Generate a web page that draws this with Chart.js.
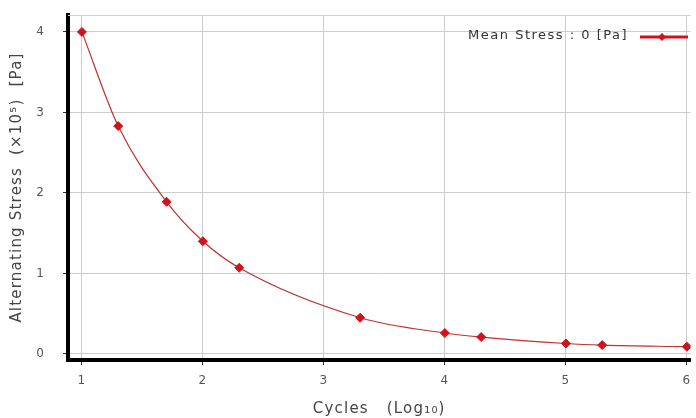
<!DOCTYPE html>
<html>
<head>
<meta charset="utf-8">
<script src="https://cdn.jsdelivr.net/npm/chart.js@4/dist/chart.umd.min.js"></script>
<style>
  html, body { margin: 0; padding: 0; background: #fff; }
  #wrap { width: 696px; height: 418px; position: relative; }
</style>
</head>
<body>
<div id="wrap"><canvas id="snChart"></canvas></div>
<script>
// S-N curve data: cycles in log10, alternating stress in units of 1e5 Pa
const cyclesLog = [1, 1.3, 1.7, 2, 2.3, 3.3, 4, 4.3, 5, 5.3, 6];
const stressValues = [4.0, 2.83, 1.89, 1.40, 1.07, 0.45, 0.26, 0.21, 0.13, 0.11, 0.09];
const xTicks = [1, 2, 3, 4, 5, 6];
const yTicks = [0, 1, 2, 3, 4];
const seriesLabel = "Mean Stress : 0 [Pa]";

const lineColor = "#c0302f";
const markerColor = "#d0121b";
const textFont = "DejaVu Sans";

// wider text spacing for every label drawn on the canvas
const spacing = {
  id: "spacing",
  beforeDraw(chart) { chart.ctx.letterSpacing = "1.2px"; }
};

// top border of the plot plus an in-plot legend at the upper right
const plotExtras = {
  id: "plotExtras",
  afterDraw(chart) {
    const { ctx, chartArea } = chart;
    ctx.save();
    ctx.strokeStyle = "#cfcfcf";
    ctx.lineWidth = 1;
    ctx.beginPath();
    ctx.moveTo(chartArea.left, chartArea.top + 0.5);
    ctx.lineTo(chartArea.right, chartArea.top + 0.5);
    ctx.stroke();

    // legend
    const ly = 37;
    ctx.font = "13px " + textFont;
    ctx.letterSpacing = "1.5px";
    ctx.fillStyle = "#333";
    ctx.textAlign = "right";
    ctx.textBaseline = "middle";
    ctx.fillText(seriesLabel, 628, ly - 1);
    ctx.strokeStyle = markerColor;
    ctx.lineWidth = 3;
    ctx.beginPath();
    ctx.moveTo(640, ly);
    ctx.lineTo(688, ly);
    ctx.stroke();
    ctx.fillStyle = markerColor;
    ctx.beginPath();
    ctx.moveTo(662, ly - 4);
    ctx.lineTo(666, ly);
    ctx.lineTo(662, ly + 4);
    ctx.lineTo(658, ly);
    ctx.closePath();
    ctx.fill();
    ctx.restore();
  }
};

new Chart(document.getElementById("snChart"), {
  type: "line",
  data: {
    datasets: [{
      label: seriesLabel,
      data: cyclesLog.map((x, i) => ({ x: x, y: stressValues[i] })),
      borderColor: lineColor,
      borderWidth: 1.2,
      cubicInterpolationMode: "monotone",
      pointStyle: "rectRot",
      pointRadius: 4.5,
      pointBackgroundColor: markerColor,
      pointBorderColor: markerColor,
      pointBorderWidth: 1
    }]
  },
  options: {
    responsive: true,
    maintainAspectRatio: false,
    animation: false,
    layout: { padding: { top: 15, right: 4, left: 8, bottom: 0 } },
    plugins: {
      legend: { display: false },
      tooltip: { enabled: false }
    },
    scales: {
      x: {
        type: "linear",
        min: 0.885,
        max: 6.03,
        afterBuildTicks: (s) => { s.ticks = xTicks.map(v => ({ value: v })); },
        afterFit: (s) => {
          s.height = 58;
          s.paddingLeft = 0;
          s.paddingRight = 0;
        },
        grid: { color: "#cccccc", tickColor: "#333", tickLength: 5 },
        border: { color: "#000", width: 4 },
        ticks: {
          color: "#555",
          padding: 9,
          font: { family: textFont, size: 12 }
        },
        title: {
          display: true,
          text: "Cycles   (Log\u2081\u2080)",
          color: "#444",
          padding: { top: 0, bottom: 0 },
          font: { family: textFont, size: 15 }
        }
      },
      y: {
        type: "linear",
        min: -0.075,
        max: 4.21,
        afterBuildTicks: (s) => { s.ticks = yTicks.map(v => ({ value: v })); },
        afterFit: (s) => {
          s.width = 60;
          // labels sit inside the range, so no extra room above/below is needed
          s.paddingTop = 0;
          s.paddingBottom = 0;
        },
        grid: { color: "#cccccc", tickColor: "#333", tickLength: 5 },
        border: { color: "#000", width: 4 },
        ticks: {
          color: "#555",
          padding: 18,
          font: { family: textFont, size: 12 }
        },
        title: {
          display: true,
          text: "Alternating Stress  (\u00d710\u2075)  [Pa]",
          color: "#444",
          padding: { top: 0, bottom: 0 },
          font: { family: textFont, size: 15 }
        }
      }
    }
  },
  plugins: [spacing, plotExtras]
});
</script>
</body>
</html>
